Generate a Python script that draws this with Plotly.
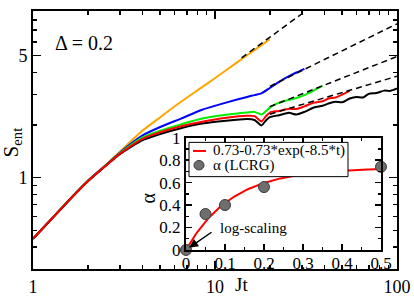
import plotly.graph_objects as go
import numpy as np

# ---------------- data ----------------
orange_x = [1, 1.25, 1.6, 2, 2.5, 3, 4, 5, 6.5, 8.5, 11.5, 15, 18, 20]
orange_y = [0.447, 0.574, 0.758, 0.961, 1.18, 1.41, 1.86, 2.22, 2.72, 3.30, 4.12, 5.02, 5.74, 6.2]

blue_x = [1, 1.25, 1.6, 2, 2.5, 3, 4, 5, 6.5, 8.5, 11.5, 15, 16.5, 18, 20, 22.5, 25.5, 28, 31]
blue_y = [0.447, 0.573, 0.756, 0.958, 1.175, 1.39, 1.745, 1.95, 2.18, 2.45, 2.69, 2.90, 2.97, 3.04, 3.26, 3.54, 3.81, 4.0, 4.2]

green_x = [1, 1.25, 1.6, 2, 2.5, 3, 4, 5, 6.5, 8.5, 11.5, 15, 16.5, 18, 19, 20, 22.5, 25.5, 28, 31, 35, 39]
green_y = [0.447, 0.573, 0.755, 0.956, 1.17, 1.38, 1.70, 1.86, 2.02, 2.18, 2.29, 2.36, 2.38, 2.30, 2.40, 2.52, 2.69, 2.79, 2.86, 2.97, 3.16, 3.36]

red_x = [1, 1.25, 1.6, 2, 2.5, 3, 4, 5, 6.5, 8.5, 11.5, 15, 16.5, 18, 19, 20, 22.5, 25.5, 28, 31, 35, 39, 42, 46, 50, 55]
red_y = [0.447, 0.573, 0.754, 0.955, 1.168, 1.37, 1.67, 1.82, 1.97, 2.09, 2.20, 2.26, 2.25, 2.10, 2.24, 2.36, 2.41, 2.48, 2.47, 2.56, 2.69, 2.74, 2.84, 2.88, 2.99, 3.14]

black_x = [1, 1.25, 1.6, 2, 2.5, 3, 4, 5, 6.5, 8.5, 11.5, 15, 16.5, 18, 19, 20, 22.5, 25.5, 28, 31, 35, 39, 42, 46, 50, 55, 60, 65, 70, 77, 85, 92, 100]
black_y = [0.447, 0.572, 0.753, 0.953, 1.165, 1.365, 1.64, 1.78, 1.92, 2.04, 2.12, 2.17, 2.14, 1.99, 2.12, 2.22, 2.28, 2.35, 2.30, 2.38, 2.52, 2.58, 2.66, 2.72, 2.70, 2.84, 2.90, 2.88, 3.02, 3.05, 3.15, 3.14, 3.24]

# dashed power-law fits (end points)
fit_orange_x = [14, 31.5]
fit_orange_y = [4.85, 9.0]
fit_blue_x = [20, 100]
fit_blue_y = [3.33, 7.6]
fit_green_x = [20, 100]
fit_green_y = [2.55, 4.94]
fit_red_x = [20, 100]
fit_red_y = [2.31, 3.81]

# inset data
alpha_t = [0.0, 0.05, 0.1, 0.2, 0.5]
alpha_val = [0.0, 0.32, 0.40, 0.56, 0.74]
fit_a = 0.73
fit_k = 8.5

FONT = "Liberation Serif"

fig = go.Figure()

for xs, ys, col in [(orange_x, orange_y, "#FFA500"),
                    (blue_x, blue_y, "#0000FF"),
                    (green_x, green_y, "#00EE00"),
                    (black_x, black_y, "#000000"),
                    (red_x, red_y, "#FF0000")]:
    fig.add_trace(go.Scatter(x=xs, y=ys, mode="lines",
                             line=dict(color=col, width=2, shape="spline", smoothing=0.6),
                             showlegend=False, hoverinfo="skip", xaxis="x", yaxis="y"))

for xs, ys in [(fit_orange_x, fit_orange_y), (fit_blue_x, fit_blue_y),
               (fit_green_x, fit_green_y), (fit_red_x, fit_red_y)]:
    fig.add_trace(go.Scatter(x=xs, y=ys, mode="lines",
                             line=dict(color="black", width=1.5, dash="6px,4px"),
                             showlegend=False, hoverinfo="skip", xaxis="x", yaxis="y"))

# inset
t_fit = np.linspace(0, 0.5, 101)
fig.add_trace(go.Scatter(x=t_fit, y=fit_a - fit_a * np.exp(-fit_k * t_fit), mode="lines",
                         line=dict(color="#FF0000", width=2),
                         showlegend=False, hoverinfo="skip", xaxis="x2", yaxis="y2"))
fig.add_trace(go.Scatter(x=alpha_t, y=alpha_val, mode="markers",
                         marker=dict(size=11, color="#6E6E6E", line=dict(color="#3A3A3A", width=1)),
                         cliponaxis=False, showlegend=False, hoverinfo="skip", xaxis="x2", yaxis="y2"))

W, H = 414, 299
ml, mr, mt, mb = 33, 17, 2, 26
pw, ph = W - ml - mr, H - mt - mb

def px2paper(px, py):
    return (px - ml) / pw, (H - mb - py) / ph

ix0, iy1 = px2paper(186, 135)
ix1, iy0 = px2paper(381, 253)

axis_common = dict(showline=True, linecolor="black", linewidth=2, mirror="allticks",
                   ticks="inside", tickcolor="black", tickwidth=1.5,
                   showgrid=False, zeroline=False,
                   tickfont=dict(family=FONT, size=18, color="black"))
inset_font = dict(family=FONT, size=17, color="black")

fig.update_layout(
    width=W, height=H,
    margin=dict(l=ml, r=mr, t=mt, b=mb),
    paper_bgcolor="white", plot_bgcolor="white",
    xaxis=dict(type="log", range=[0, 2], tickmode="array", tickvals=[1, 10, 100],
               ticktext=["1", "10", "100"], ticklen=8,
               minor=dict(tickmode="array",
                          tickvals=[2, 3, 4, 5, 6, 7, 8, 9, 20, 30, 40, 50, 60, 70, 80, 90],
                          ticks="inside", ticklen=4, tickcolor="black", tickwidth=1.5),
               **axis_common),
    yaxis=dict(type="log", range=[np.log10(0.3), np.log10(9)], tickmode="array",
               tickvals=[1, 5], ticktext=["1", "5"], ticklen=8,
               minor=dict(tickmode="array",
                          tickvals=[0.4, 0.5, 0.6, 0.7, 0.8, 0.9, 2, 3, 4, 6, 7, 8],
                          ticks="inside", ticklen=4, tickcolor="black", tickwidth=1.5),
               **axis_common),
    xaxis2=dict(domain=[ix0, ix1], anchor="y2", range=[0, 0.5], tickmode="array",
                tickvals=[0, 0.1, 0.2, 0.3, 0.4, 0.5], ticktext=["0", "0.1", "0.2", "0.3", "0.4", "0.5"],
                ticklen=6, ticklabelstandoff=-3,
                minor=dict(tickmode="array", tickvals=[0.05, 0.15, 0.25, 0.35, 0.45],
                           ticks="inside", ticklen=3, tickcolor="black", tickwidth=1.5),
                **{**axis_common, "tickfont": inset_font}),
    yaxis2=dict(domain=[iy0, iy1], anchor="x2", range=[0, 1], tickmode="array",
                tickvals=[0, 0.2, 0.4, 0.6, 0.8, 1], ticktext=["0", "0.2", "0.4", "0.6", "0.8", "1"],
                ticklen=6,
                minor=dict(tickmode="array", tickvals=[0.1, 0.3, 0.5, 0.7, 0.9],
                           ticks="inside", ticklen=3, tickcolor="black", tickwidth=1.5),
                **{**axis_common, "tickfont": inset_font}),
    showlegend=False,
    hovermode=False,
)

# inset background (white) so it hides anything behind
fig.add_shape(type="rect", xref="x2 domain", yref="y2 domain", x0=0, x1=1, y0=0, y1=1,
              fillcolor="white", line=dict(width=0), layer="below")

# manual inset legend
lx0, ly1 = px2paper(189, 140)
lx1, ly0 = px2paper(348, 176)
fig.add_shape(type="rect", xref="paper", yref="paper", x0=lx0, x1=lx1, y0=ly0, y1=ly1,
              fillcolor="white", line=dict(color="black", width=1))
a0, b0 = px2paper(193, 149)
a1, _ = px2paper(206, 149)
fig.add_shape(type="line", xref="paper", yref="paper", x0=a0, x1=a1, y0=b0, y1=b0,
              line=dict(color="#FF0000", width=2))
cx, cy = px2paper(199, 164)
r = 5
fig.add_shape(type="circle", xref="paper", yref="paper",
              x0=cx - r / pw, x1=cx + r / pw, y0=cy - r / ph, y1=cy + r / ph,
              fillcolor="#6E6E6E", line=dict(color="#3A3A3A", width=1))

def text(px, py, s, size, xanchor="left", angle=0):
    x, y = px2paper(px, py)
    fig.add_annotation(x=x, y=y, xref="paper", yref="paper", text=s, showarrow=False,
                       xanchor=xanchor, yanchor="middle", textangle=angle,
                       font=dict(family=FONT, size=size, color="black"))

text(211, 149, "0.73-0.73*exp(-8.5*t)", 15)
text(211, 164, "α (LCRG)", 15)
text(84, 36, "Δ = 0.2", 20, xanchor="center")
text(241, 289, "Jt", 19, xanchor="center")
text(148, 199, "α", 20, xanchor="center", angle=-90)
text(12, 140, "S<sub>ent</sub>", 21, xanchor="center", angle=-90)

# "log-scaling" with arrow to origin of inset
tip_x, tip_y = 188, 251
fig.add_annotation(x=0.008, y=0.02, xref="x2", yref="y2", ax=217 - tip_x, ay=231 - tip_y,
                   text="log-scaling", xanchor="left", yanchor="middle",
                   font=dict(family=FONT, size=15, color="black"),
                   showarrow=True, arrowhead=2, arrowsize=1.2, arrowwidth=1.5,
                   arrowcolor="black", startstandoff=8)

fig.write_html("out.html", config={"displayModeBar": False, "staticPlot": True},
               post_script="document.body.style.margin='0';document.body.style.overflow='hidden';")
